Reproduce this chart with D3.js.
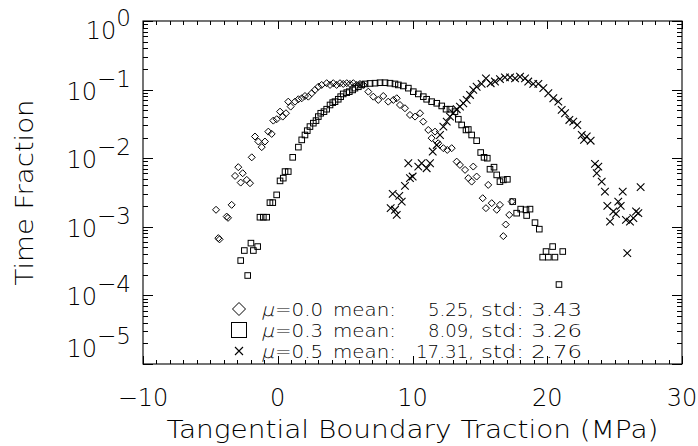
<!DOCTYPE html>
<html>
<head>
<meta charset="utf-8">
<script src="https://cdn.jsdelivr.net/npm/d3@7"></script>
<style>
  html, body { margin: 0; padding: 0; background: #fff; }
  svg text { font-family: "DejaVu Sans", "Liberation Sans", sans-serif; font-weight: 200; fill: #000; }
</style>
</head>
<body>
<div id="chart"></div>
<script>
// ---------------- data ----------------
const mu00X = [-4.58,-4.41,-4.32,-3.79,-3.69,-3.42,-3.17,-2.93,-2.75,-2.60,-2.30,-2.06,-1.93,-1.69,-1.44,-1.19,-0.95,-0.70,-0.45,-0.33,-0.08,0.17,0.37,0.61,0.78,0.96,1.28,1.53,1.78,2.02,2.27,2.52,2.76,3.01,3.26,3.63,3.88,4.12,4.37,4.62,4.86,5.12,5.36,5.61,5.86,6.10,6.35,6.72,7.09,7.46,7.83,8.20,8.58,8.83,9.07,9.44,9.81,10.19,10.56,10.80,11.17,11.42,11.67,11.91,12.29,12.58,12.91,13.28,13.52,13.90,14.14,14.39,14.51,14.76,15.21,15.45,15.62,15.88,16.25,16.49,16.74,16.92,17.18,17.36];
const mu00Y = [1.77e-3,6.84e-4,6.56e-4,1.41e-3,1.35e-3,2.09e-3,5.52e-3,7.40e-3,4.41e-3,6.04e-3,4.83e-3,4.32e-3,1.03e-2,2.07e-2,1.75e-2,1.45e-2,1.75e-2,2.44e-2,2.26e-2,3.53e-2,3.70e-2,4.77e-2,4.04e-2,4.52e-2,6.67e-2,5.65e-2,6.67e-2,7.23e-2,7.48e-2,8.07e-2,7.89e-2,8.85e-2,9.89e-2,0.110,0.117,0.124,0.117,0.124,0.117,0.124,0.121,0.124,0.121,0.124,0.117,0.121,0.117,9.33e-2,7.89e-2,7.07e-2,8.07e-2,6.67e-2,7.07e-2,7.48e-2,5.97e-2,5.35e-2,4.27e-2,4.04e-2,4.52e-2,3.41e-2,2.58e-2,1.96e-2,2.44e-2,1.65e-2,1.40e-2,1.32e-2,1.40e-2,8.91e-3,7.98e-3,6.76e-3,5.12e-3,4.56e-3,7.55e-3,5.40e-3,2.61e-3,1.87e-3,4.08e-3,2.21e-3,1.77e-3,2.09e-3,7.31e-4,1.08e-3,1.49e-3,2.33e-3];

const mu03X = [-2.75,-2.48,-2.23,-1.99,-1.81,-1.49,-1.32,-1.07,-0.82,-0.58,-0.37,-0.08,0.17,0.41,0.54,0.78,1.11,1.53,1.78,2.02,2.19,2.39,2.64,2.84,3.01,3.19,3.43,3.63,3.88,4.08,4.25,4.49,4.67,4.86,5.12,5.31,5.56,5.73,5.98,6.23,6.48,6.85,7.22,7.59,7.96,8.33,8.70,8.95,9.32,9.69,10.06,10.43,10.80,11.05,11.42,11.80,12.17,12.49,12.78,13.15,13.40,13.65,13.97,14.14,14.39,14.76,15.06,15.31,15.55,15.75,16.05,16.25,16.49,16.74,17.04,17.44,17.73,18.03,18.42,18.47,18.72,19.09,19.41,19.66,19.91,20.08,20.40,20.57,20.87,21.15];
const mu03Y = [3.22e-4,4.51e-4,1.95e-4,5.78e-4,4.51e-4,5.15e-4,1.38e-3,1.38e-3,1.38e-3,2.25e-3,2.25e-3,2.92e-3,4.67e-3,5.12e-3,6.38e-3,6.38e-3,1.03e-2,1.45e-2,1.85e-2,2.18e-2,2.52e-2,2.89e-2,3.24e-2,3.53e-2,4.04e-2,4.52e-2,4.77e-2,5.18e-2,5.97e-2,6.46e-2,6.67e-2,7.23e-2,7.89e-2,8.65e-2,9.03e-2,9.33e-2,9.89e-2,0.105,0.110,0.117,0.121,0.123,0.124,0.126,0.126,0.124,0.121,0.117,0.113,0.105,9.33e-2,8.65e-2,7.89e-2,7.23e-2,6.67e-2,6.32e-2,5.78e-2,5.18e-2,5.18e-2,4.77e-2,3.70e-2,3.05e-2,2.58e-2,2.62e-2,2.18e-2,1.80e-2,1.21e-2,1.03e-2,1.00e-2,6.91e-3,7.40e-3,5.71e-3,4.56e-3,4.83e-3,4.92e-3,2.33e-3,1.58e-3,1.81e-3,1.77e-3,1.46e-3,1.81e-3,1.15e-3,9.24e-4,3.61e-4,4.36e-4,3.61e-4,5.15e-4,3.61e-4,1.44e-4,4.36e-4];

const mu05X = [8.38,8.53,8.70,8.83,9.02,9.20,9.44,9.69,9.81,10.01,10.43,10.68,11.05,11.30,11.50,11.80,12.04,12.29,12.54,12.78,13.03,13.28,13.52,13.77,14.02,14.27,14.51,14.76,15.13,15.45,15.80,16.12,16.49,16.86,17.24,17.61,17.98,18.35,18.59,18.96,19.34,19.71,20.08,20.45,20.82,21.07,21.32,21.64,21.93,22.23,22.56,22.73,22.93,23.22,23.54,23.67,23.79,24.04,24.28,24.46,24.66,24.90,25.10,25.27,25.45,25.60,25.84,25.94,26.14,26.39,26.59,26.76,26.93];
const mu05Y = [1.87e-3,3.02e-3,1.77e-3,1.49e-3,2.82e-3,2.33e-3,3.95e-3,8.45e-3,5.12e-3,5.40e-3,7.55e-3,8.45e-3,7.15e-3,8.45e-3,1.25e-2,1.56e-2,2.18e-2,2.89e-2,3.41e-2,4.04e-2,4.52e-2,5.18e-2,5.65e-2,6.32e-2,7.07e-2,8.36e-2,9.89e-2,0.110,0.121,0.146,0.124,0.131,0.142,0.151,0.151,0.146,0.154,0.146,0.131,0.121,0.121,0.105,8.85e-2,7.48e-2,6.67e-2,5.06e-2,4.52e-2,3.61e-2,3.41e-2,3.05e-2,2.18e-2,1.85e-2,2.07e-2,1.80e-2,8.26e-3,6.04e-3,7.55e-3,4.56e-3,3.26e-3,2.02e-3,1.19e-3,1.67e-3,1.55e-3,2.33e-3,2.02e-3,3.26e-3,1.26e-3,4.13e-4,1.19e-3,1.34e-3,1.67e-3,1.58e-3,3.78e-3];

const xTickValues = [-10, 0, 10, 20, 30];
const xTickLabels = ["\u221210", "0", "10", "20", "30"];
const yTickValues = [1, 1e-1, 1e-2, 1e-3, 1e-4, 1e-5];
const yTickExponents = ["0", "\u22121", "\u22122", "\u22123", "\u22124", "\u22125"];

const legendMu = ["0.0", "0.3", "0.5"];
const legendMean = ["5.25", "8.09", "17.31"];
const legendStd = ["3.43", "3.26", "2.76"];
const legendSymbols = ["diamond", "square", "cross"];

const xTitle = "Tangential Boundary Traction (MPa)";
const yTitle = "Time Fraction";

// ---------------- layout ----------------
const W = 698, H = 446;
const L = 143, R = 682, T = 21, B = 364;

const svg = d3.select("#chart").append("svg")
  .attr("width", W).attr("height", H)
  .attr("viewBox", `0 0 ${W} ${H}`);

const x = d3.scaleLinear().domain([-10, 30]).range([L, R]);
const y = d3.scaleLog().domain([1e-5, 1]).range([B, T]);

const ink = "#000";

// frame
svg.append("rect")
  .attr("x", L).attr("y", T).attr("width", R - L).attr("height", B - T)
  .attr("fill", "none").attr("stroke", ink).attr("stroke-width", 1.1);

// x ticks (every unit, major every 10), on bottom and top, pointing inward
const xMinor = d3.range(-10, 31, 1);
const gx = svg.append("g").attr("stroke", ink).attr("stroke-width", 1);
xMinor.forEach(v => {
  const len = (v % 10 === 0) ? 8 : 4;
  const px = Math.round(x(v)) + 0.5;
  gx.append("line").attr("x1", px).attr("x2", px).attr("y1", B).attr("y2", B - len);
  gx.append("line").attr("x1", px).attr("x2", px).attr("y1", T).attr("y2", T + len);
});

// y ticks (log, decades major)
const gy = svg.append("g").attr("stroke", ink).attr("stroke-width", 1);
y.ticks().forEach(v => {
  const e = Math.log10(v);
  const major = Math.abs(e - Math.round(e)) < 1e-9;
  const len = major ? 10 : 5;
  const py = Math.round(y(v)) + 0.5;
  gy.append("line").attr("x1", L).attr("x2", L + len).attr("y1", py).attr("y2", py);
  gy.append("line").attr("x1", R).attr("x2", R - len).attr("y1", py).attr("y2", py);
});

// x tick labels
svg.append("g").selectAll("text").data(xTickValues).join("text")
  .attr("x", d => x(d)).attr("y", B + 42)
  .attr("text-anchor", "middle").attr("font-size", 24)
  .text((d, i) => xTickLabels[i]);

// y tick labels 10^k
const yLabelShift = v => (v === 1 ? 7.5 : (v === 1e-5 ? -17 : 0));
const yl = svg.append("g").selectAll("text").data(yTickValues).join("text")
  .attr("x", 131)
  .attr("y", d => y(d) + 10 + yLabelShift(d))
  .attr("text-anchor", "end").attr("font-size", 24);
yl.append("tspan").text("10");
yl.append("tspan").attr("dy", -13).attr("font-size", 23).text((d, i) => yTickExponents[i]);

// titles
svg.append("text")
  .attr("x", (L + R) / 2).attr("y", 438)
  .attr("text-anchor", "middle").attr("font-size", 24)
  .attr("textLength", 492).attr("lengthAdjust", "spacingAndGlyphs")
  .text(xTitle);
svg.append("text")
  .attr("transform", `translate(33,${(T + B) / 2}) rotate(-90)`)
  .attr("text-anchor", "middle").attr("font-size", 24)
  .attr("textLength", 186).attr("lengthAdjust", "spacingAndGlyphs")
  .text(yTitle);

// markers
function drawMarker(g, kind, cx, cy, s) {
  if (kind === "diamond") {
    g.append("path")
      .attr("d", `M${cx},${cy - s}L${cx + s},${cy}L${cx},${cy + s}L${cx - s},${cy}Z`)
      .attr("fill", "none").attr("stroke", ink).attr("stroke-width", 1);
  } else if (kind === "square") {
    g.append("rect")
      .attr("x", cx - s).attr("y", cy - s).attr("width", 2 * s).attr("height", 2 * s)
      .attr("fill", "none").attr("stroke", ink).attr("stroke-width", 1);
  } else {
    g.append("path")
      .attr("d", `M${cx - s},${cy - s}L${cx + s},${cy + s}M${cx - s},${cy + s}L${cx + s},${cy - s}`)
      .attr("fill", "none").attr("stroke", ink).attr("stroke-width", 1.1);
  }
}

const series = [
  { kind: "diamond", xs: mu00X, ys: mu00Y, size: 3.5 },
  { kind: "square",  xs: mu03X, ys: mu03Y, size: 2.8 },
  { kind: "cross",   xs: mu05X, ys: mu05Y, size: 3.8 }
];
const gm = svg.append("g");
series.forEach(s => {
  s.xs.forEach((xv, i) => drawMarker(gm, s.kind, x(xv), y(s.ys[i]), s.size));
});

// legend
const legendBase = [316, 337, 358];
const legendSymY = [309, 330, 351];
const legendSymSize = [6.5, 7.5, 4];
const legendFont = 18;
const lg = svg.append("g");
legendSymbols.forEach((k, i) => drawMarker(lg, k, 239, legendSymY[i], legendSymSize[i]));
legendMu.forEach((mu, i) => {
  const yb = legendBase[i];
  lg.append("text").attr("font-size", legendFont)
    .attr("transform", `translate(261,${yb}) skewX(-14)`)
    .attr("textLength", 13).attr("lengthAdjust", "spacingAndGlyphs")
    .text("\u03bc");
  lg.append("text").attr("font-size", legendFont)
    .attr("x", 275).attr("y", yb)
    .attr("textLength", 48).attr("lengthAdjust", "spacingAndGlyphs")
    .text(`=${mu}`);
  lg.append("text").attr("font-size", legendFont)
    .attr("x", 333).attr("y", yb)
    .attr("textLength", 63).attr("lengthAdjust", "spacingAndGlyphs")
    .text("mean:");
  const mw = legendMean[i].length > 4 ? 58 : 46;
  lg.append("text").attr("font-size", legendFont)
    .attr("x", 474 - mw).attr("y", yb)
    .attr("textLength", mw).attr("lengthAdjust", "spacingAndGlyphs")
    .text(`${legendMean[i]},`);
  lg.append("text").attr("font-size", legendFont)
    .attr("x", 481).attr("y", yb)
    .attr("textLength", 101).attr("lengthAdjust", "spacingAndGlyphs")
    .text(`std: ${legendStd[i]}`);
});
</script>
</body>
</html>
